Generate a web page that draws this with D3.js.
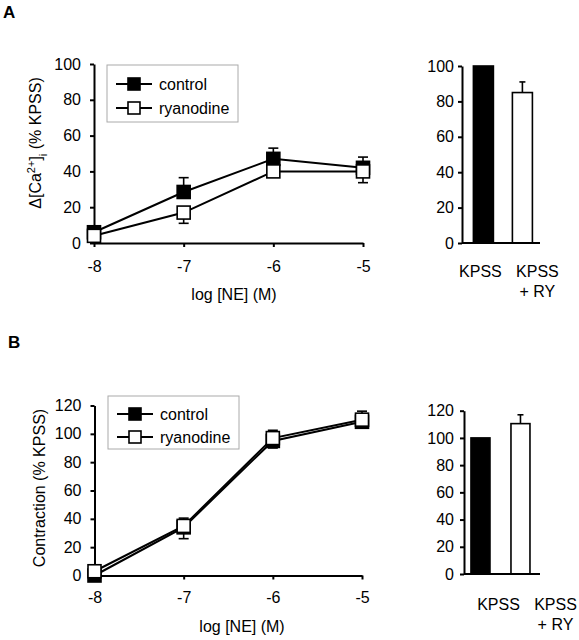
<!DOCTYPE html>
<html>
<head>
<meta charset="utf-8">
<script src="https://cdn.jsdelivr.net/npm/d3@7"></script>
<style>
  html, body { margin: 0; padding: 0; background: #fff; }
  svg { display: block; font-family: "Liberation Sans", Arial, Helvetica, sans-serif; }
</style>
</head>
<body>
<svg id="chart" width="579" height="640"></svg>
<script>
// ---------- data ----------
const logNE = [-8, -7, -6, -5];
const xTickLabels = ["-8", "-7", "-6", "-5"];
const seriesNames = ["control", "ryanodine"];

// Panel A: Δ[Ca2+]i (% KPSS)
const caControl = [6, 28.5, 47, 42];
const caControlErr = [0, 8, 6, 6];
const caRyanodine = [4, 17, 40, 40];
const caRyanodineErr = [0, 6, 0, 6.3];
const caYTicks = [0, 20, 40, 60, 80, 100];
const caBarCategories = ["KPSS", "KPSS + RY"];
const caBarValues = [100, 85];
const caBarErr = [0, 6];

// Panel B: Contraction (% KPSS)
const ctControl = [0, 34, 95, 108.5];
const ctControlErr = [0, 6.5, 7.5, 7.5];
const ctRyanodine = [3, 35, 97, 110];
const ctRyanodineErr = [0, 9, 7, 2];
const ctYTicks = [0, 20, 40, 60, 80, 100, 120];
const ctBarCategories = ["KPSS", "KPSS + RY"];
const ctBarValues = [100, 110.5];
const ctBarErr = [0, 6.5];

// ---------- drawing ----------
const svg = d3.select("#chart");
const FS = 16;
const MS = 13; // marker size

function styleAxis(g) {
  g.selectAll("path.domain").attr("stroke", "#000").attr("stroke-width", 2);
  g.selectAll(".tick line").attr("stroke", "#000").attr("stroke-width", 2);
  g.selectAll(".tick text").attr("font-size", FS).attr("fill", "#000")
    .attr("font-family", "Liberation Sans, Arial, sans-serif");
}

function linePanel(o) {
  const x = d3.scaleLinear().domain([-8, -5]).range(o.xr);
  const y = d3.scaleLinear().domain([0, o.ymax]).range(o.yr);
  const g = svg.append("g");

  g.append("g").attr("transform", `translate(0,${o.yr[0]})`)
    .call(d3.axisBottom(x).tickValues(logNE).tickFormat((d, i) => xTickLabels[i])
      .tickSize(4).tickSizeOuter(0).tickPadding(o.xpad))
    .call(styleAxis);
  g.append("g").attr("transform", `translate(${o.xr[0]},0)`)
    .call(d3.axisLeft(y).tickValues(o.yticks).tickSize(4).tickSizeOuter(0).tickPadding(o.ypad))
    .call(styleAxis);

  const series = [
    { name: seriesNames[0], v: o.control, e: o.controlErr, dir: 1, fill: "#000" },
    { name: seriesNames[1], v: o.ryan, e: o.ryanErr, dir: -1, fill: "#fff" }
  ];
  const line = d3.line().x((d, i) => x(logNE[i])).y(d => y(d));
  series.forEach(s => {
    g.append("path").datum(s.v).attr("d", line).attr("fill", "none")
      .attr("stroke", "#000").attr("stroke-width", 2);
  });
  series.forEach(s => {
    const eb = g.append("g");
    s.v.forEach((v, i) => {
      if (!s.e[i]) return;
      const cx = x(logNE[i]);
      const yEnd = y(v + s.dir * s.e[i]);
      eb.append("line").attr("x1", cx).attr("x2", cx).attr("y1", y(v)).attr("y2", yEnd)
        .attr("stroke", "#000").attr("stroke-width", 1.6);
      eb.append("line").attr("x1", cx - 5).attr("x2", cx + 5).attr("y1", yEnd).attr("y2", yEnd)
        .attr("stroke", "#000").attr("stroke-width", 1.6);
    });
  });
  series.forEach(s => {
    g.append("g").selectAll("rect").data(s.v).join("rect")
      .attr("x", (d, i) => x(logNE[i]) - MS / 2)
      .attr("y", d => y(d) - MS / 2)
      .attr("width", MS).attr("height", MS)
      .attr("fill", s.fill).attr("stroke", "#000").attr("stroke-width", 1.6);
  });

  // legend
  const lg = g.append("g");
  lg.append("rect").attr("x", o.leg[0]).attr("y", o.leg[1]).attr("width", o.leg[2]).attr("height", o.leg[3])
    .attr("fill", "#fff").attr("stroke", "#aaa").attr("stroke-width", 1);
  series.forEach((s, i) => {
    const ly = o.legY[i];
    lg.append("line").attr("x1", o.leg[0] + 9).attr("x2", o.leg[0] + 45).attr("y1", ly).attr("y2", ly)
      .attr("stroke", "#000").attr("stroke-width", 2);
    lg.append("rect").attr("x", o.leg[0] + 27 - 6).attr("y", ly - 6).attr("width", 12).attr("height", 12)
      .attr("fill", s.fill).attr("stroke", "#000").attr("stroke-width", 1.6);
    lg.append("text").attr("x", o.leg[0] + 52).attr("y", ly + 6).attr("font-size", FS).text(s.name);
  });

  // axis titles
  g.append("text").attr("x", o.xTitle[0]).attr("y", o.xTitle[1]).attr("text-anchor", "middle")
    .attr("font-size", FS).text("log [NE] (M)");
  const yt = g.append("text").attr("text-anchor", "middle").attr("font-size", FS)
    .attr("transform", `translate(${o.yTitle[0]},${o.yTitle[1]}) rotate(-90)`);
  o.yTitleParts.forEach(p => {
    const t = yt.append("tspan").text(p.t);
    if (p.sup) t.attr("baseline-shift", "super").attr("font-size", 11);
    if (p.sub) t.attr("baseline-shift", "sub").attr("font-size", 11);
  });

  g.append("text").attr("x", o.panel[0]).attr("y", o.panel[1]).attr("font-size", 17)
    .attr("font-weight", "bold").text(o.panelLabel);
}

function barPanel(o) {
  const x = d3.scaleBand().domain(o.cats).range(o.xr)
    .paddingInner(o.pi).paddingOuter(o.po).align(o.align);
  const y = d3.scaleLinear().domain([0, o.ymax]).range(o.yr);
  const g = svg.append("g");

  g.selectAll("rect.bar").data(o.vals).join("rect")
    .attr("x", (d, i) => x(o.cats[i])).attr("width", x.bandwidth())
    .attr("y", d => y(d)).attr("height", d => y(0) - y(d))
    .attr("fill", (d, i) => i === 0 ? "#000" : "#fff")
    .attr("stroke", "#000").attr("stroke-width", 1.6);
  o.vals.forEach((v, i) => {
    if (!o.err[i]) return;
    const cx = x(o.cats[i]) + x.bandwidth() / 2;
    const yEnd = y(v + o.err[i]);
    g.append("line").attr("x1", cx).attr("x2", cx).attr("y1", y(v)).attr("y2", yEnd)
      .attr("stroke", "#000").attr("stroke-width", 1.6);
    g.append("line").attr("x1", cx - 3).attr("x2", cx + 3).attr("y1", yEnd).attr("y2", yEnd)
      .attr("stroke", "#000").attr("stroke-width", 1.6);
  });

  g.append("g").attr("transform", `translate(${o.xr[0]},0)`)
    .call(d3.axisLeft(y).tickValues(o.yticks).tickSize(4).tickSizeOuter(0).tickPadding(o.ypad))
    .call(styleAxis);
  g.append("line").attr("x1", o.xr[0]).attr("x2", o.xr[1]).attr("y1", o.yr[0]).attr("y2", o.yr[0])
    .attr("stroke", "#000").attr("stroke-width", 2);

  o.cats.forEach((c, i) => {
    const cx = x(c) + x.bandwidth() / 2 + o.labelShift[i];
    const lines = c === "KPSS + RY" ? ["KPSS", "+ RY"] : [c];
    lines.forEach((ln, j) => {
      g.append("text").attr("x", cx).attr("y", o.labelY + j * 20).attr("text-anchor", "middle")
        .attr("font-size", FS).text(ln);
    });
  });
}

linePanel({
  xr: [94, 363], yr: [243, 64], ymax: 100, yticks: caYTicks,
  control: caControl, controlErr: caControlErr, ryan: caRyanodine, ryanErr: caRyanodineErr,
  xpad: 14, ypad: 9,
  leg: [107, 65, 131, 57], legY: [84, 108],
  xTitle: [234, 300], yTitle: [41, 143],
  yTitleParts: [{ t: "\u0394[Ca" }, { t: "2+", sup: true }, { t: "]" }, { t: "i", sub: true }, { t: " (% KPSS)" }],
  panel: [3, 18], panelLabel: "A"
});
barPanel({
  xr: [462, 540], yr: [243, 66], ymax: 100, yticks: caYTicks,
  cats: caBarCategories, vals: caBarValues, err: caBarErr,
  pi: 0.487, po: 0.2435, align: 0.6, ypad: 4,
  labelShift: [-3, 15], labelY: 277
});

linePanel({
  xr: [94.5, 362], yr: [575.5, 405.5], ymax: 120, yticks: ctYTicks,
  control: ctControl, controlErr: ctControlErr, ryan: ctRyanodine, ryanErr: ctRyanodineErr,
  xpad: 12, ypad: 9,
  leg: [108, 396, 131, 53], legY: [414, 437],
  xTitle: [242, 632], yTitle: [45, 488],
  yTitleParts: [{ t: "Contraction (% KPSS)" }],
  panel: [8, 348], panelLabel: "B"
});
barPanel({
  xr: [464, 540], yr: [574, 410.7], ymax: 120, yticks: ctYTicks,
  cats: ctBarCategories, vals: ctBarValues, err: ctBarErr,
  pi: 0.525, po: 0.2125, align: 0.41, ypad: 6,
  labelShift: [18, 35], labelY: 610
});
</script>
</body>
</html>
